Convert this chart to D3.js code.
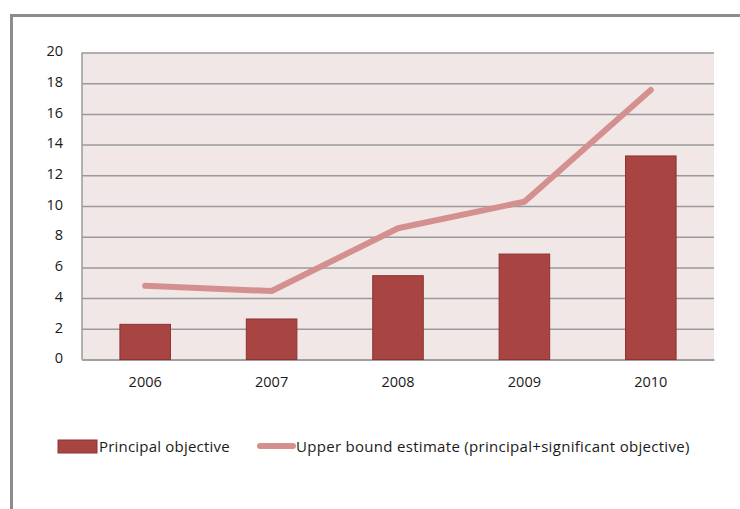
<!DOCTYPE html>
<html><head><meta charset="utf-8">
<script src="https://cdn.jsdelivr.net/npm/d3@7"></script>
<style>body{margin:0;background:#fff}svg{display:block}text{font-family:"Open Sans","Liberation Sans",sans-serif;fill:#1a1a1a}</style>
</head><body><svg id="c" width="740" height="509"></svg>
<script>
const categories = ["2006","2007","2008","2009","2010"];
const principal = [2.29, 2.64, 5.46, 6.87, 13.26];
const upperBound = [4.8, 4.46, 8.55, 10.28, 17.56];
const yTicks = [0,2,4,6,8,10,12,14,16,18,20];
const seriesNames = ["Principal objective","Upper bound estimate (principal+significant objective)"];

const svg = d3.select("#c");
// outer frame
svg.append("path").attr("d","M11.5,509 V15.5 H740").attr("fill","none").attr("stroke","#8c8c8c").attr("stroke-width",3);

const L=82,R=714,T=52.5,B=359.5;
const x = d3.scaleBand().domain(categories).range([L,R]).paddingInner(0.6).paddingOuter(0.3);
const xc = d3.scalePoint().domain(categories).range([L,R]).padding(0.5);
const y = d3.scaleLinear().domain([0,20]).range([B,T]);

svg.append("rect").attr("x",L).attr("y",T).attr("width",R-L).attr("height",B-T).attr("fill","#f2e7e7");

const gy = svg.append("g").attr("transform",`translate(${L},0)`)
  .call(d3.axisLeft(y).tickValues(yTicks).tickSize(-(R-L)).tickPadding(19));
gy.select(".domain").remove();
gy.selectAll(".tick line").attr("stroke","#9a9a9a").attr("stroke-width",1.5);
gy.selectAll(".tick text").attr("font-size",14.5).attr("fill","#1a1a1a").attr("dy","0.22em");
svg.append("line").attr("x1",L).attr("x2",L).attr("y1",T).attr("y2",B).attr("stroke","#9a9a9a").attr("stroke-width",1.5);

const gx = svg.append("g").attr("transform",`translate(0,${B})`)
  .call(d3.axisBottom(x).tickSize(0).tickPadding(17));
gx.select(".domain").attr("stroke","#9a9a9a").attr("stroke-width",1.5);
gx.selectAll(".tick text").attr("font-size",14.5).attr("fill","#1a1a1a").attr("dy","0.72em");

svg.append("g").selectAll("rect").data(principal).join("rect")
  .attr("x",(d,i)=>x(categories[i])).attr("width",x.bandwidth())
  .attr("y",d=>y(d)).attr("height",d=>B-y(d))
  .attr("fill","#a84442").attr("stroke","#8e3331").attr("stroke-width",1);

svg.append("path").datum(upperBound)
  .attr("d",d3.line().x((d,i)=>xc(categories[i])).y(d=>y(d)))
  .attr("fill","none").attr("stroke","#d4908f").attr("stroke-width",6).attr("stroke-linecap","round").attr("stroke-linejoin","round");

// legend
const lg = svg.append("g");
lg.append("rect").attr("x",58).attr("y",440).attr("width",39).attr("height",13).attr("fill","#a84442").attr("stroke","#8e3331");
lg.append("text").attr("x",99).attr("y",452).attr("font-size",15).attr("letter-spacing","0.2px").text(seriesNames[0]);
lg.append("line").attr("x1",260).attr("x2",293).attr("y1",446).attr("y2",446).attr("stroke","#d4908f").attr("stroke-width",6).attr("stroke-linecap","round");
lg.append("text").attr("x",296).attr("y",452).attr("font-size",15).attr("letter-spacing","0.3px").text(seriesNames[1]);
</script></body></html>
